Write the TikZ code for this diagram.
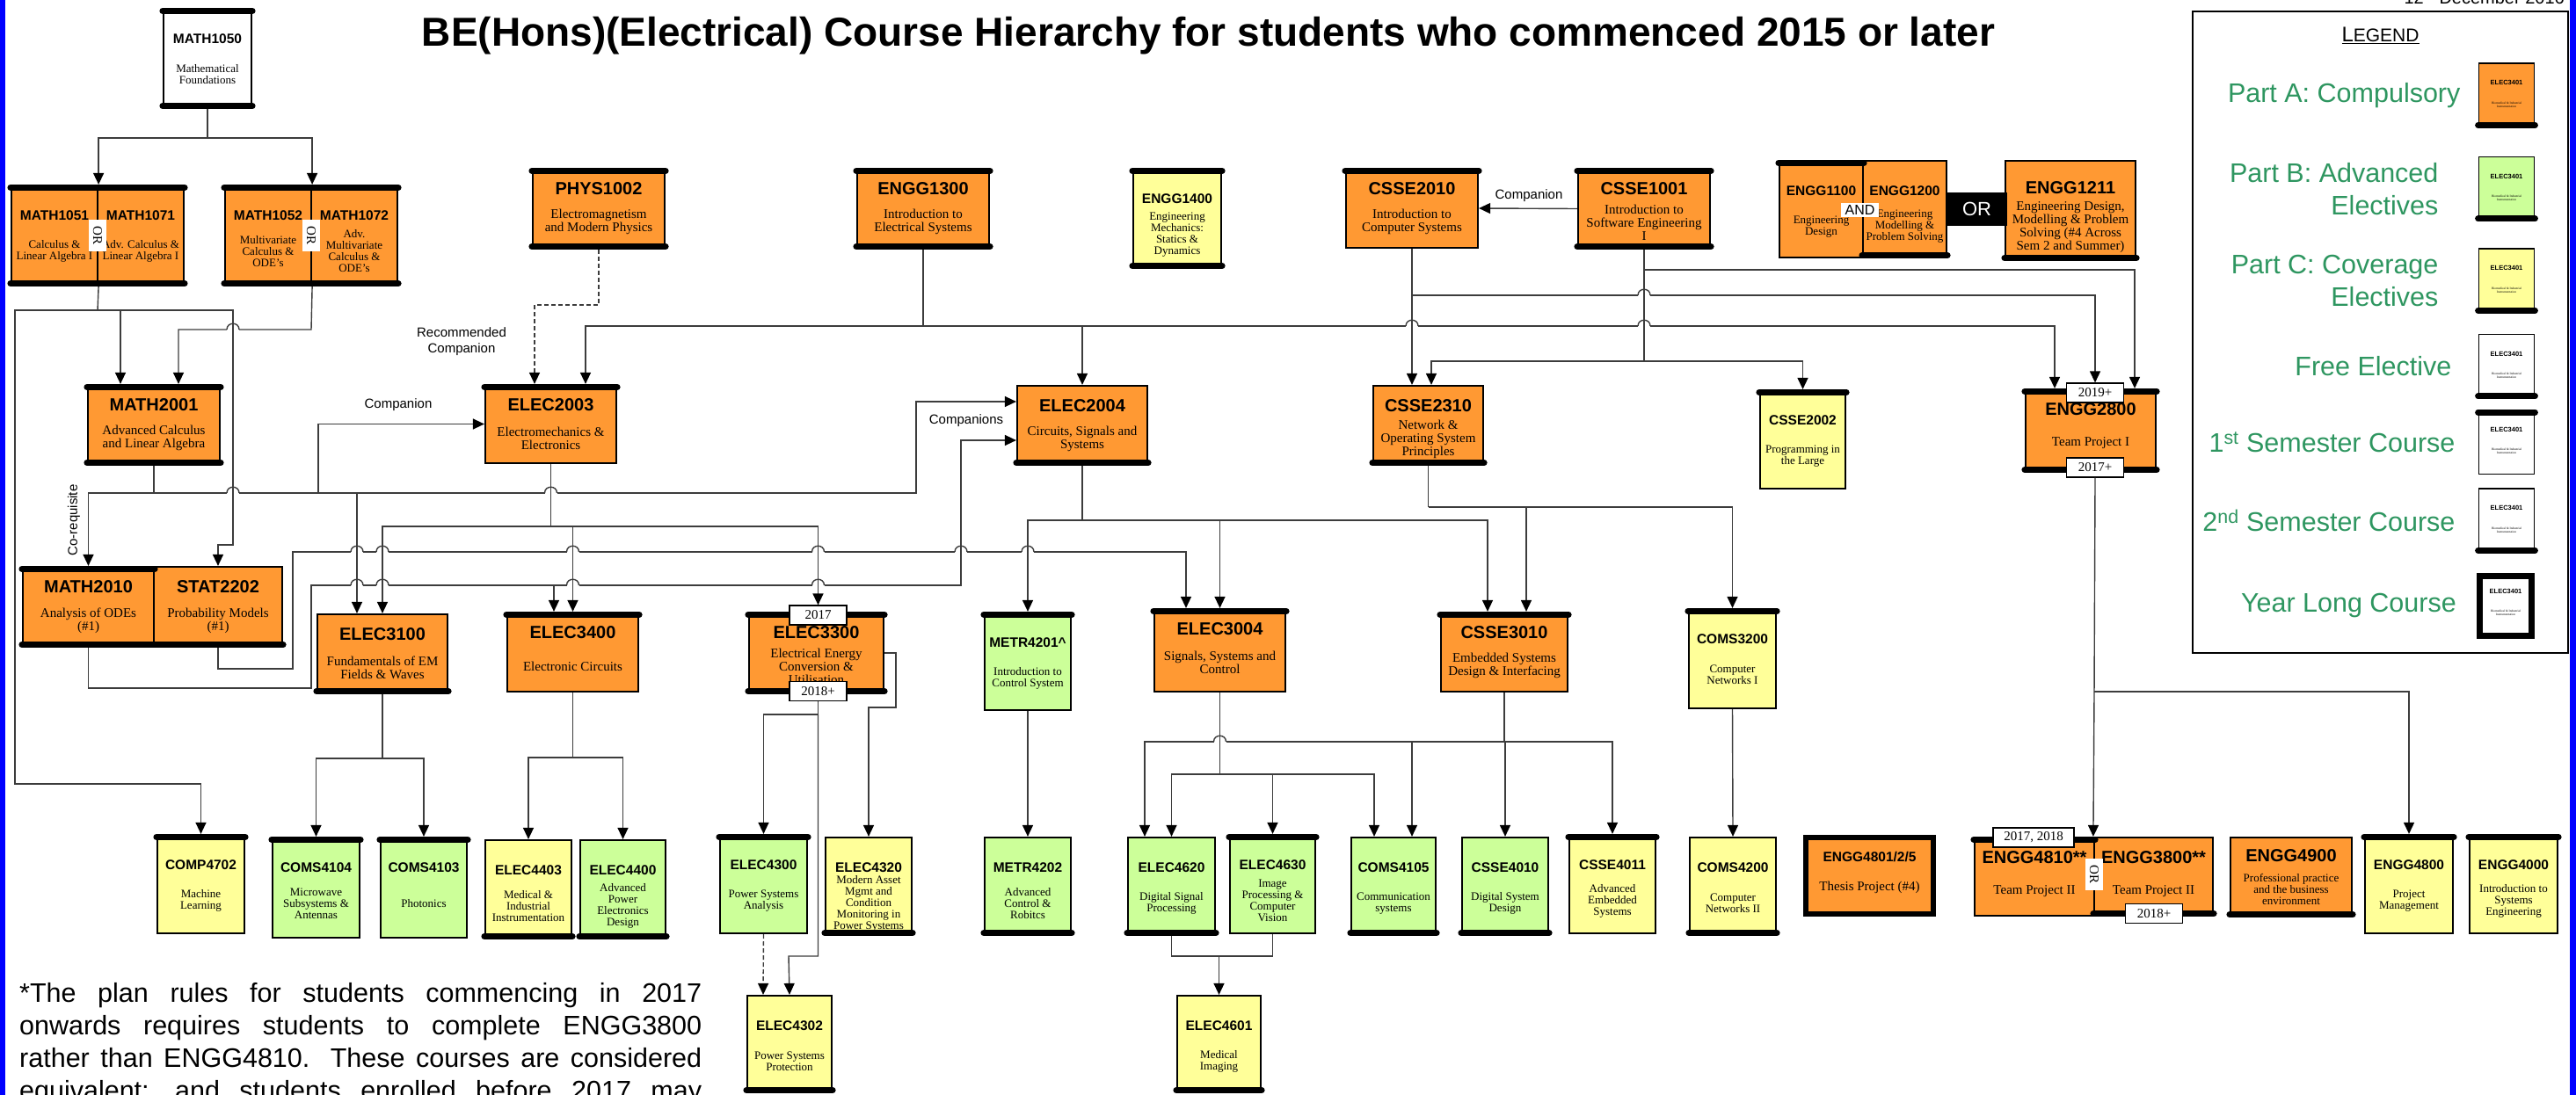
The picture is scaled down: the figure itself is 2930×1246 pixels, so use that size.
\documentclass[tikz,border=0pt]{standalone}
\usepackage{fontspec}
\setmainfont{Liberation Serif}
\setsansfont{Liberation Sans}
\usepackage{tikz}
\usetikzlibrary{positioning}
\usetikzlibrary{arrows.meta}
\usetikzlibrary{calc}
\definecolor{partA}{RGB}{255,153,51}
\definecolor{partB}{RGB}{204,255,153}
\definecolor{partC}{RGB}{255,255,153}
\definecolor{legendgreen}{RGB}{46,150,96}
\definecolor{wiregrey}{RGB}{60,60,60}
\tikzstyle{course}=[rectangle,draw=black,line width=2.2pt,inner sep=0pt]
\tikzstyle{bigcode}=[inner sep=0pt,font=\sffamily\bfseries\fontsize{20}{20}\selectfont]
\tikzstyle{smallcode}=[inner sep=0pt,font=\sffamily\bfseries\fontsize{15.5}{15.5}\selectfont]
\tikzstyle{bigdesc}=[inner sep=0pt,align=center,font=\fontsize{15}{15}\selectfont]
\tikzstyle{smalldesc}=[inner sep=0pt,align=center,font=\fontsize{13}{13}\selectfont]
\tikzstyle{semesterbar}=[line width=7pt,line cap=round]
\tikzstyle{wire}=[draw,line width=1.4pt,wiregrey]
\tikzstyle{prereq}=[wire,-{Triangle[length=13pt,width=12pt,color=black]}]
\tikzstyle{yearlabel}=[draw=black,line width=1.2pt,fill=white,inner sep=0pt,minimum width=65pt,minimum height=22pt,font=\fontsize{15}{15}\selectfont]
\tikzstyle{orlabel}=[fill=white,inner xsep=8pt,inner ysep=5pt,rotate=-90,font=\fontsize{15}{15}\selectfont]
\tikzstyle{note}=[inner sep=0pt,align=center,font=\sffamily\fontsize{15}{18}\selectfont]
\tikzstyle{legendtext}=[inner sep=0pt,align=right,text=legendgreen,font=\sffamily\fontsize{30.5}{37}\selectfont]
\tikzstyle{minicode}=[inner sep=0pt,font=\sffamily\bfseries\fontsize{7.5}{7.5}\selectfont]
\tikzstyle{minidesc}=[inner sep=0pt,align=center,font=\fontsize{3.5}{4}\selectfont]

\begin{document}
\begin{tikzpicture}[x=1pt,y=-1pt]
    \useasboundingbox (0,0) rectangle (2930,1246);
    \fill[blue] (0,0) rectangle (6,1246);
    \fill[blue] (2923,0) rectangle (2930,1246);

    % Title and date
    \node[anchor=base,inner sep=0pt,font=\sffamily\bfseries\fontsize{46}{46}\selectfont] (title) at (1374.5,53) {BE(Hons)(Electrical) Course Hierarchy for students who commenced 2015 or later};
    \node[anchor=base east,inner sep=0pt,font=\sffamily\fontsize{20}{20}\selectfont] (date) at (2917,5) {12\textsuperscript{th} December 2016};

    % First we draw the big course boxes
    \foreach \x/\y/\w/\h/\fc/\name/\code/\desc in {
        681/237.5/150/91/partA/PHYS1002/PHYS1002/{Electromagnetism\\and Modern Physics},
        1050/237.5/150/91/partA/ENGG1300/ENGG1300/{Introduction to\\Electrical Systems},
        1606/237/150/90/partA/CSSE2010/CSSE2010/{Introduction to\\Computer Systems},
        1870/237.5/150/91/partA/CSSE1001/CSSE1001/{Introduction to\\Software Engineering\\I},
        175/483.5/150/91/partA/MATH2001/MATH2001/{Advanced Calculus\\and Linear Algebra},
        626.5/482.5/149/89/partA/ELEC2003/ELEC2003/{Electromechanics \&\\Electronics},
        1231/484/148/90/partA/ELEC2004/ELEC2004/{Circuits, Signals and\\Systems},
        1624.5/484/125/90/partA/CSSE2310/CSSE2310/{Network \&\\Operating System\\Principles},
        2378/490/148/94/partA/ENGG2800/ENGG2800/{Team Project I},
        100.5/690.5/149/91/partA/MATH2010/MATH2010/{Analysis of ODEs\\(\#1)},
        248/690.5/146/91/partA/STAT2202/STAT2202/{Probability Models\\(\#1)},
        435/744/148/90/partA/ELEC3100/ELEC3100/{Fundamentals of EM\\Fields \& Waves},
        651.5/742/149/90/partA/ELEC3400/ELEC3400/{Electronic Circuits},
        928.5/743/153/92/partA/ELEC3300/ELEC3300/{Electrical Energy\\Conversion \&\\Utilisation},
        1387.5/740/149/94/partA/ELEC3004/ELEC3004/{Signals, Systems and\\Control},
        1711/742/144/90/partA/CSSE3010/CSSE3010/{Embedded Systems\\Design \& Interfacing},
        2314/997.5/136/89/partA/ENGG4810/ENGG4810**/{Team Project II},
        2449.5/997.5/135/89/partA/ENGG3800/ENGG3800**/{Team Project II}}
    {
        \node[course,fill=\fc,minimum width=\w pt,minimum height=\h pt] (\name) at (\x,\y) {};
        \node[bigcode] (\name-code) at ([yshift=-24pt]\name.north) {\code};
        \node[bigdesc] (\name-desc) at ([yshift=-62pt]\name.north) {\desc};
    }

    % Then the tall course boxes
    \foreach \x/\y/\w/\h/\fc/\name/\code/\desc in {
        236/66.5/100/113/white/MATH1050/MATH1050/{Mathematical\\Foundations},
        62/268/98/114/partA/MATH1051/MATH1051/{Calculus \&\\Linear Algebra I},
        160/268/98/114/partA/MATH1071/MATH1071/{Adv. Calculus \&\\Linear Algebra I},
        305/268/98/114/partA/MATH1052/MATH1052/{Multivariate\\Calculus \&\\ODE's},
        403/268/98/114/partA/MATH1072/MATH1072/{Adv.\\Multivariate\\Calculus \&\\ODE's},
        1339/248.5/100/113/partC/ENGG1400/ENGG1400/{Engineering\\Mechanics:\\Statics \&\\Dynamics},
        2071.5/238/95/110/partA/ENGG1100/ENGG1100/{Engineering\\Design},
        2166.5/238/95/110/partA/ENGG1200/ENGG1200/{Engineering\\Modelling \&\\Problem Solving},
        2050.5/500/97/112/partC/CSSE2002/CSSE2002/{Programming in\\the Large},
        1169/752.5/98/111/partB/METR4201/METR4201\textasciicircum/{Introduction to\\Control System},
        1970.5/749.5/99/113/partC/COMS3200/COMS3200/{Computer\\Networks I},
        228.5/1006/99/112/partC/COMP4702/COMP4702/{Machine\\Learning},
        359.5/1010/99/114/partB/COMS4104/COMS4104/{Microwave\\Subsystems \&\\Antennas},
        482/1010/98/114/partB/COMS4103/COMS4103/{Photonics},
        601/1012/98/112/partC/ELEC4403/ELEC4403/{Medical \&\\Industrial\\Instrumentation},
        708.5/1012/97/112/partB/ELEC4400/ELEC4400/{Advanced\\Power\\Electronics\\Design},
        868.5/1006/99/112/partB/ELEC4300/ELEC4300/{Power Systems\\Analysis},
        988/1008.5/98/111/partC/ELEC4320/ELEC4320/{Modern Asset\\Mgmt and\\Condition\\Monitoring in\\Power Systems},
        1169/1008.5/98/111/partB/METR4202/METR4202/{Advanced\\Control \&\\Robitcs},
        1332.5/1008.5/99/111/partB/ELEC4620/ELEC4620/{Digital Signal\\Processing},
        1447.5/1006/97/112/partB/ELEC4630/ELEC4630/{Image\\Processing \&\\Computer\\Vision},
        1585/1008.5/96/111/partB/COMS4105/COMS4105/{Communication\\systems},
        1712/1008.5/98/111/partB/CSSE4010/CSSE4010/{Digital System\\Design},
        1834/1006/98/112/partC/CSSE4011/CSSE4011/{Advanced\\Embedded\\Systems},
        1971/1008.5/98/111/partC/COMS4200/COMS4200/{Computer\\Networks II},
        2740/1006/100/112/partC/ENGG4800/ENGG4800/{Project\\Management},
        2859/1006/100/112/partC/ENGG4000/ENGG4000/{Introduction to\\Systems\\Engineering},
        898/1188/96/110/partC/ELEC4302/ELEC4302/{Power Systems\\Protection},
        1386.5/1188/95/110/partC/ELEC4601/ELEC4601/{Medical\\Imaging}}
    {
        \node[course,fill=\fc,minimum width=\w pt,minimum height=\h pt] (\name) at (\x,\y) {};
        \node[smallcode] (\name-code) at ([yshift=-35pt]\name.north) {\code};
        \node[smalldesc] (\name-desc) at ([yshift=-76pt]\name.north) {\desc};
    }

    % The odd ones
    \node[course,fill=partA,minimum width=148pt,minimum height=113pt] (ENGG1211) at (2355,239.5) {};
    \node[bigcode] (ENGG1211-code) at ([yshift=-32pt]ENGG1211.north) {ENGG1211};
    \node[bigdesc] (ENGG1211-desc) at ([yshift=-77pt]ENGG1211.north) {Engineering Design,\\Modelling \& Problem\\Solving (\#4 Across\\Sem 2 and Summer)};
    \node[course,fill=partA,line width=6pt,minimum width=145pt,minimum height=87pt] (ENGGthesis) at (2126.5,996.5) {};
    \node[smallcode] (ENGGthesis-code) at ([yshift=-25pt]ENGGthesis.north) {ENGG4801/2/5};
    \node[bigdesc] (ENGGthesis-desc) at ([yshift=-60pt]ENGGthesis.north) {Thesis Project (\#4)};
    \node[course,fill=partA,minimum width=138pt,minimum height=90pt] (ENGG4900) at (2606,998) {};
    \node[bigcode] (ENGG4900-code) at ([yshift=-22pt]ENGG4900.north) {ENGG4900};
    \node[smalldesc] (ENGG4900-desc) at ([yshift=-60.5pt]ENGG4900.north) {Professional practice\\and the business\\environment};

    % Legend
    \node[draw=black,line width=1.3pt,minimum width=427pt,minimum height=730pt,inner sep=0pt] (legend) at (2707.5,378) {};
    \node[anchor=base,inner sep=0pt,font=\sffamily\fontsize{24}{24}\selectfont] (legendtitle) at (2707.5,48) {\underline{L{\fontsize{21}{21}\selectfont EGEND}}};
    \foreach \y/\fc/\name in {108.5/partA/legA, 215/partB/legB, 319.5/partC/legC, 417/white/legFree, 503/white/legFirst, 592.5/white/legSecond}
    {
        \node[course,fill=\fc,line width=1.8pt,minimum width=63pt,minimum height=73pt] (\name) at (2851,\y) {};
        \node[minicode] (\name-code) at ([yshift=-23pt]\name.north) {ELEC3401};
        \node[minidesc] (\name-desc) at ([yshift=-48pt]\name.north) {Biomedical \& Industrial\\Instrumentation};
    }
    \node[course,fill=white,line width=7pt,minimum width=59pt,minimum height=68pt] (legYear) at (2850,689.5) {};
    \node[minicode] (legYear-code) at ([yshift=-21pt]legYear.north) {ELEC3401};
    \node[minidesc] (legYear-desc) at ([yshift=-45pt]legYear.north) {Biomedical \& Industrial\\Instrumentation};
    \node[legendtext,left=20pt of legA] (txtA) {Part A: Compulsory};
    \node[legendtext,left=45pt of legB] (txtB) {Part B: Advanced\\Electives};
    \node[legendtext,left=45pt of legC] (txtC) {Part C: Coverage\\Electives};
    \node[legendtext,left=30pt of legFree] (txtFree) {Free Elective};
    \node[legendtext,left=26pt of legFirst] (txtFirst) {1\textsuperscript{st} Semester Course};
    \node[legendtext,left=26pt of legSecond] (txtSecond) {2\textsuperscript{nd} Semester Course};
    \node[legendtext,left=23pt of legYear] (txtYear) {Year Long Course};

    % Semester bars
    \foreach \n in {MATH1050,MATH1051,MATH1071,MATH1052,MATH1072,PHYS1002,ENGG1300,ENGG1400,CSSE2010,CSSE1001,ENGG1100,MATH2001,ELEC2003,CSSE2002,ENGG2800,MATH2010,ELEC3400,ELEC3300,METR4201,ELEC3004,CSSE3010,COMS3200,COMP4702,COMS4104,COMS4103,ELEC4300,ELEC4630,CSSE4011,ENGG4810,ENGG4800,ENGG4000,legFirst}
        \draw[semesterbar] ([yshift=-3.5pt]\n.north west) -- ([yshift=-3.5pt]\n.north east);
    \foreach \n in {MATH1050,MATH1051,MATH1071,MATH1052,MATH1072,PHYS1002,ENGG1300,ENGG1400,CSSE1001,ENGG1200,ENGG1211,MATH2001,ELEC2004,CSSE2310,ENGG2800,MATH2010,STAT2202,ELEC3100,ELEC3300,ELEC4403,ELEC4400,ELEC4320,METR4202,ELEC4620,COMS4105,CSSE4010,COMS4200,ENGG3800,ENGG4900,ELEC4302,ELEC4601,legA,legB,legC,legFree,legSecond}
        \draw[semesterbar] ([yshift=3.5pt]\n.south west) -- ([yshift=3.5pt]\n.south east);

    % Year tags and OR / AND marks
    \node[yearlabel] (lab2017) at (930.5,700) {2017};
    \node[yearlabel] (lab2018) at (930.5,786.5) {2018+};
    \node[yearlabel] (lab2019) at (2383,447) {2019+};
    \node[yearlabel] (lab2017p) at (2383,532) {2017+};
    \node[yearlabel,minimum width=92pt] (lab1718) at (2313,953) {2017, 2018};
    \node[yearlabel] (lab2018b) at (2450,1039.5) {2018+};
    \node[orlabel] (or1) at (111,268) {OR};
    \node[orlabel] (or2) at (354,268) {OR};
    \node[orlabel] (or3) at (2382,995) {OR};
    \node[fill=white,inner xsep=5pt,inner ysep=2pt,font=\sffamily\fontsize{16}{16}\selectfont] (andlbl) at (2115.5,239) {AND};
    \node[fill=black,text=white,inner sep=0pt,minimum width=69pt,minimum height=38pt,font=\sffamily\fontsize{22}{22}\selectfont] (orbox) at (2248.5,238) {OR};

    % Free text on the connectors
    \node[note] (compA) at (453,461) {Companion};
    \node[note] (compB) at (1099,479) {Companions};
    \node[note] (recomp) at (525,389) {Recommended\\Companion};
    \node[note] (compC) at (1739,223) {Companion};
    \node[note,rotate=90] (coreq) at (84,592) {Co-requisite};

    % Junctions and bends
    \coordinate (jM1050) at (236,157);
    \coordinate (jM1051) at (111,353);
    \coordinate (jM1052) at (354,375);
    \coordinate (bendA) at (17,892);
    \coordinate (bendB) at (265,620);
    \coordinate (jM2001) at (175,561);
    \coordinate (bendC) at (362,561);
    \coordinate (bendD) at (1042,561);
    \coordinate (jE2003) at (626.5,599);
    \coordinate (bendE) at (354,783);
    \coordinate (bendF) at (1093,666);
    \coordinate (jM2010) at (630,666);
    \coordinate (bendG) at (333,761);
    \coordinate (bendH) at (1349,628);
    \coordinate (jE2004) at (1231,592);
    \coordinate (jC2310) at (1624.5,577);
    \coordinate (jE1300) at (1050,371);
    \coordinate (bendP) at (608,347);
    \coordinate (jC2010) at (1606,336);
    \coordinate (jC1001a) at (1870,411);
    \coordinate (jC1001b) at (1870,307);
    \coordinate (jE2800) at (2382,787);
    \coordinate (jE3100) at (435,863);
    \coordinate (jE3400) at (651.5,862);
    \coordinate (jE3300) at (930.5,813);
    \coordinate (bendR) at (1019,805);
    \coordinate (bendS) at (897,1088);
    \coordinate (jE3004) at (1387.5,881);
    \coordinate (jC3010) at (1711,844);
    \coordinate (jE4620) at (1386.5,1088);

    % Connect the courses
    \draw[wire] (MATH1050.south) -- (jM1050);
    \draw[prereq] (jM1050) -| (MATH1051.north east);
    \draw[prereq] (jM1050) -| (MATH1052.north east);
    \draw[wire] (MATH1051.south east) -- (jM1051);
    \draw[prereq] (jM1051) -| (bendA) -| (COMP4702.north);
    \draw[prereq] (jM1051) -| ([xshift=-38pt]MATH2001.north);
    \draw[prereq] (jM1051) -| (bendB) -| (STAT2202.north);
    \draw[prereq] (MATH1052.south east) -- (jM1052) -| ([xshift=28pt]MATH2001.north);
    \draw[wire] (MATH2001.south) -- (jM2001);
    \draw[prereq] (jM2001) -| (MATH2010.north);
    \draw[prereq] (jM2001) -| ([xshift=-29pt]ELEC3100.north);
    \draw[prereq] (jM2001) -- (bendC) |- (ELEC2003.west);
    \draw[prereq] (jM2001) -- (bendD) |- ([yshift=27pt]ELEC2004.west);
    \draw[wire] (ELEC2003.south) -- (jE2003);
    \draw[prereq] (jE2003) -| (ELEC3100.north);
    \draw[prereq] (jE2003) -| (ELEC3400.north);
    \draw[prereq] (jE2003) -| (lab2017.north);
    \draw[prereq] (MATH2010.south) |- (bendE) |- (bendF) |- ([yshift=-17pt]ELEC2004.west);
    \draw[prereq] (jM2010) -- ([xshift=-21.5pt]ELEC3400.north);
    \draw[prereq] (STAT2202.south) |- (bendG) |- (bendH) -- ([xshift=-38.5pt]ELEC3004.north);
    \draw[wire] (ELEC2004.south) -- (jE2004);
    \draw[prereq] (jE2004) -| (METR4201.north);
    \draw[prereq] (jE2004) -| (ELEC3004.north);
    \draw[prereq] (jE2004) -| ([xshift=-19pt]CSSE3010.north);
    \draw[wire] (CSSE2310.south) -- (jC2310);
    \draw[prereq] (jC2310) -| ([xshift=25pt]CSSE3010.north);
    \draw[prereq] (jC2310) -| (COMS3200.north);
    \draw[wire] (ENGG1300.south) -- (jE1300);
    \draw[prereq] (jE1300) -| ([xshift=39.5pt]ELEC2003.north);
    \draw[prereq] (jE1300) -| (ELEC2004.north);
    \draw[prereq] (jE1300) -| ([xshift=-41pt]ENGG2800.north);
    \draw[prereq,dash pattern=on 5pt off 3pt] (PHYS1002.south) |- (bendP) -- ([xshift=-18.5pt]ELEC2003.north);
    \draw[prereq] (CSSE2010.south) -- ([xshift=-18.5pt]CSSE2310.north);
    \draw[prereq] (jC2010) -| (lab2019.north);
    \draw[prereq] (CSSE1001.west) -- (CSSE2010.east);
    \draw[wire] (CSSE1001.south) -- (jC1001a);
    \draw[prereq] (jC1001a) -| ([xshift=3.5pt]CSSE2310.north);
    \draw[prereq] (jC1001a) -| (CSSE2002.north);
    \draw[prereq] (jC1001b) -| ([xshift=50pt]ENGG2800.north);
    \draw[wire] (lab2017p.south) -- (jE2800);
    \draw[prereq] (jE2800) -- (ENGG3800.north west);
    \draw[prereq] (jE2800) -| (ENGG4800.north);
    \draw[wire] (ELEC3100.south) -- (jE3100);
    \draw[prereq] (jE3100) -| (COMS4104.north);
    \draw[prereq] (jE3100) -| (COMS4103.north);
    \draw[wire] (ELEC3400.south) -- (jE3400);
    \draw[prereq] (jE3400) -| (ELEC4403.north);
    \draw[prereq] (jE3400) -| (ELEC4400.north);
    \draw[wire] (lab2018.south) -- (jE3300);
    \draw[prereq] (jE3300) -| (ELEC4300.north);
    \draw[prereq] (jE3300) |- (bendS) -- (ELEC4302.north);
    \draw[prereq] (ELEC3300.east) -| (bendR) -| (ELEC4320.north);
    \draw[prereq,dash pattern=on 5pt off 3pt] (ELEC4300.south) -- ([xshift=-30pt]ELEC4302.north);
    \draw[prereq] (METR4201.south) -- (METR4202.north);
    \draw[wire] (ELEC3004.south) -- (jE3004);
    \draw[prereq] (jE3004) -| (ELEC4620.north);
    \draw[prereq] (jE3004) -| (ELEC4630.north);
    \draw[prereq] (jE3004) -| ([xshift=-22pt]COMS4105.north);
    \draw[wire] (CSSE3010.south) -- (jC3010);
    \draw[prereq] (jC3010) -| ([xshift=-30.5pt]ELEC4620.north);
    \draw[prereq] (jC3010) -| ([xshift=21pt]COMS4105.north);
    \draw[prereq] (jC3010) -| (CSSE4010.north);
    \draw[prereq] (jC3010) -| (CSSE4011.north);
    \draw[prereq] (COMS3200.south) -- (COMS4200.north);
    \draw[wire] (ELEC4620.south) |- (jE4620) -| (ELEC4630.south);
    \draw[prereq] (jE4620) -- (ELEC4601.north);

    % Little hops where two wires cross
    \foreach \hx/\hy in {265/375, 265/561, 626.5/561, 406/628, 435/628, 651.5/628, 930.5/628, 1093/628, 1169/628, 406/666, 435/666, 651.5/666, 930.5/666, 1606/371, 1870/371, 1870/336, 1387.5/844}
    {
        \fill[white] (\hx-7,\hy-2) rectangle (\hx+7,\hy+2);
        \draw[wire] (\hx,\hy-3) -- (\hx,\hy+3);
        \draw[wire] (\hx-7,\hy) .. controls (\hx-7,\hy-9) and (\hx+7,\hy-9) .. (\hx+7,\hy);
    }

    % Footnote
    \foreach \yy/\txt in {1140/{*The plan rules for students commencing in 2017}, 1177/{onwards requires students to complete ENGG3800}, 1214/{rather than ENGG4810. These courses are considered}, 1251/{equivalent; and students enrolled before 2017 may}}
        \node[anchor=base west,inner sep=0pt,font=\sffamily\fontsize{30.5}{30.5}\selectfont] (foot\yy) at (22,\yy) {\makebox[776pt][s]{\txt}};
\end{tikzpicture}
\end{document}
